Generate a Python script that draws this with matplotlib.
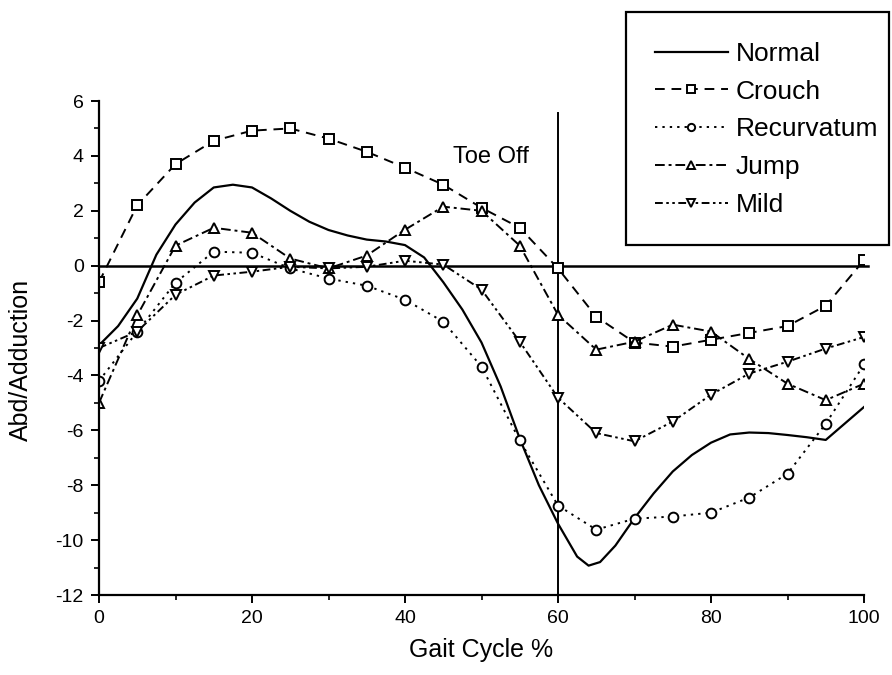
#!/usr/bin/env python3
# Hip abd/adduction over the gait cycle for several gait patterns
import matplotlib
matplotlib.use("Agg")
import matplotlib.pyplot as plt
from matplotlib.patches import Rectangle

# gait cycle points with markers (every 5 %)
cycle = [0, 5, 10, 15, 20, 25, 30, 35, 40, 45, 50,
         55, 60, 65, 70, 75, 80, 85, 90, 95, 100]

crouch = [-0.6, 2.2, 3.7, 4.55, 4.92, 5.0, 4.63, 4.15, 3.57, 2.95, 2.11,
          1.38, -0.1, -1.86, -2.8, -2.95, -2.7, -2.45, -2.2, -1.46, 0.2]
recurvatum = [-4.2, -2.4, -0.62, 0.51, 0.47, -0.1, -0.47, -0.73, -1.24, -2.04, -3.68,
              -6.37, -8.74, -9.62, -9.22, -9.14, -9.0, -8.45, -7.58, -5.76, -3.6]
jump = [-5.0, -1.81, 0.73, 1.38, 1.2, 0.26, -0.1, 0.37, 1.31, 2.15, 2.0,
        0.73, -1.79, -3.06, -2.77, -2.15, -2.4, -3.4, -4.3, -4.9, -4.3]
mild = [-3.0, -2.4, -1.06, -0.36, -0.22, -0.04, -0.1, -0.04, 0.18, 0.04, -0.87,
        -2.77, -4.81, -6.1, -6.4, -5.68, -4.7, -3.93, -3.5, -3.02, -2.6]

# the normal curve has no markers, read every 2.5 %
normal_x = [0, 2.5, 5, 7.5, 10, 12.5, 15, 17.5, 20, 22.5, 25, 27.5, 30, 32.5,
            35, 37.5, 40, 42.5, 45, 47.5, 50, 52.5, 55, 57.5, 60, 62.5, 64,
            65.5, 67.5, 70, 72.5, 75, 77.5, 80, 82.5, 85, 87.5, 90, 92.5, 95,
            97.5, 100]
normal_y = [-2.9, -2.2, -1.2, 0.4, 1.5, 2.3, 2.85, 2.95, 2.85, 2.45, 2.0, 1.6,
            1.3, 1.1, 0.95, 0.88, 0.75, 0.3, -0.6, -1.6, -2.8, -4.4, -6.3, -8.0,
            -9.4, -10.6, -10.93, -10.8, -10.2, -9.2, -8.3, -7.5, -6.9, -6.45,
            -6.15, -6.08, -6.1, -6.17, -6.25, -6.35, -5.75, -5.15]

toe_off = 60

plt.rcParams['font.family'] = ['Liberation Sans', 'DejaVu Sans']
plt.rcParams['axes.unicode_minus'] = False

fig = plt.figure(figsize=(8.92, 6.75), dpi=100)
ax = fig.add_axes([99 / 892, 1 - 595 / 675, 765 / 892, 494 / 675])

lw = 1.4
mk = dict(markersize=7, markerfacecolor="white", markeredgecolor="black",
          markeredgewidth=1.4)

ax.plot(normal_x, normal_y, color="black", lw=1.6, label="Normal")
ax.plot(cycle, crouch, color="black", lw=lw, ls=(0, (5, 3.5)),
        marker="s", label="Crouch", **mk)
ax.plot(cycle, recurvatum, color="black", lw=lw, ls=(0, (1.2, 2.6)),
        marker="o", label="Recurvatum", **mk)
ax.plot(cycle, jump, color="black", lw=lw, ls=(0, (5, 2, 1.5, 2)),
        marker="^", label="Jump", **mk)
ax.plot(cycle, mild, color="black", lw=lw, ls=(0, (4, 1.8, 1.3, 1.8, 1.3, 1.8)),
        marker="v", label="Mild", **mk)

# zero line and toe-off marker
ax.plot([0, 100.5], [0, 0], color="black", lw=1.8, clip_on=False, zorder=1)
ax.plot([toe_off, toe_off], [-12, 5.57], color="black", lw=1.4, zorder=1)
ax.text(46.3, 3.97, "Toe Off", fontsize=17, ha="left", va="center")

ax.set_xlim(0, 100)
ax.set_ylim(-12, 6)
ax.set_xticks(range(0, 101, 20))
ax.set_xticks(range(10, 100, 20), minor=True)
ax.set_yticks(range(-12, 7, 2))
ax.set_yticks(range(-11, 6, 2), minor=True)
for s in ("top", "right"):
    ax.spines[s].set_visible(False)
for s in ("left", "bottom"):
    ax.spines[s].set_linewidth(1.6)
ax.tick_params(which="major", direction="out", length=6, width=1.4,
               labelsize=14, pad=5)
ax.tick_params(which="minor", direction="out", length=3.5, width=1.2)

ax.set_xlabel("Gait Cycle %", fontsize=18, labelpad=8)
ax.set_ylabel("Abd/Adduction", fontsize=18)
ax.yaxis.set_label_coords(-0.086, 0.476)

# legend in its own box at the top right
fig.patches.append(Rectangle((626 / 892, 1 - 245 / 675), 263 / 892, 233 / 675,
                             transform=fig.transFigure, fill=False,
                             edgecolor="black", lw=1.6))
fig.legend(loc="upper left", bbox_to_anchor=(655 / 892, 1 - 42 / 675),
           frameon=False, fontsize=19, handlelength=2.75, handletextpad=0.3,
           labelspacing=0.52, borderpad=0, borderaxespad=0, markerscale=0.75)

fig.savefig("out.png", dpi=100)
